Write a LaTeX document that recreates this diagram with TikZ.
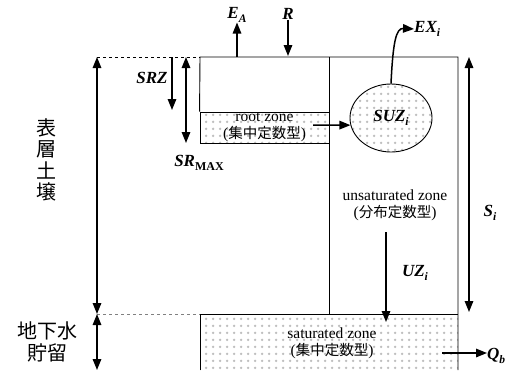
\documentclass[tikz,border=0pt]{standalone}
\usepackage{fontspec}
\setmainfont{Liberation Serif}
\newfontfamily\cjk{Noto Sans CJK JP}
\usetikzlibrary{arrows.meta,patterns.meta,shapes.geometric}
\tikzdeclarepattern{
  name=sdots,
  type=uncolored,
  bounding box={(0pt,0pt) and (7pt,7pt)},
  tile size={(7pt,7pt)},
  code={\fill (3.5pt,3.5pt) circle (1.5pt);}
}
\newcommand\lsub[2]{#1\raisebox{-0.45ex}{\fontsize{11.5}{11.5}\selectfont #2}}
\begin{document}
\begin{tikzpicture}[x=1pt,y=-1pt,
  thin line/.style={line width=0.9pt},
  arr/.style={line width=1.5pt, -{Triangle[length=11pt,width=8.5pt]}},
  darr/.style={line width=1.5pt, {Triangle[length=11pt,width=8.5pt]}-{Triangle[length=11pt,width=8.5pt]}},
  lbl/.style={font=\fontsize{17}{17}\selectfont\bfseries\itshape, inner sep=0pt},
  ztext/.style={font=\fontsize{15.5}{16.5}\selectfont, align=center, inner sep=0pt},
  cjkline/.style={font=\fontsize{14.5}{16.5}\selectfont},
  dotfill/.style={pattern=sdots, pattern color=gray!50},
  vlabel/.style={font=\cjk\fontsize{20}{21.5}\selectfont, align=center, inner sep=0pt}]
\useasboundingbox (0,0) rectangle (514,370);

% coordinates
\coordinate (tl) at (200,57);
\coordinate (tm) at (329,57);
\coordinate (tr) at (458,57);
\coordinate (bm) at (329,314);
\coordinate (br) at (458,370);
\coordinate (dl1) at (97,57);
\coordinate (dl2) at (97,314);
\coordinate (dl3) at (97,370);

% saturated zone
\node[dotfill, minimum width=258pt, minimum height=56pt, anchor=north west, inner sep=0pt] (sat) at (200,314) {};
\draw[thin line] (sat.south west) -- (sat.north west) -- (sat.north east);
\node[ztext] (sattext) at (332,343.5) {saturated zone\\({\cjk\fontsize{14.5}{16.5}\selectfont 集中定数型})};

% root zone
\node[draw, thin line, dotfill, minimum width=129pt, minimum height=31pt, inner sep=0pt, ztext] (root) at (264.5,127.5) {root zone\\({\cjk\fontsize{14.5}{16.5}\selectfont 集中定数型})};

% frame
\draw[thin line] (root.north west) -- (tl) -- (tr) -- (br);
\draw[thin line] (tm) -- (bm);
\draw[thin line, dashed] (dl1) -- (tl);
\draw[thin line, dashed, gray] (dl2) -- (sat.north west);

% SUZ ellipse
\node[ellipse, draw, line width=0.9pt, dotfill, minimum width=82pt, minimum height=68pt, inner sep=0pt, lbl] (suz) at (391,118) {\lsub{SUZ}{i}};
\coordinate (rz) at (313,125);
\draw[arr] (rz) -- (suz.190);

% EX
\node[lbl, anchor=west] (ex) at (414,29) {\lsub{EX}{i}};
\draw[arr] (suz.north) .. controls (393,42) and (396,28) .. (ex.west);

% unsaturated zone text
\node[ztext] (unsat) at (395,205.5) {unsaturated zone\\({\cjk\fontsize{14.5}{16.5}\selectfont 分布定数型})};

% E_A and R
\coordinate (ea0) at (237,57);
\node[lbl] (ea) at (237,15) {\lsub{E}{A}};
\draw[arr] (ea0) -- (ea.south);
\node[lbl] (r) at (288,14) {R};
\coordinate (r0) at (288,56);
\draw[arr] (r.south) -- (r0);

% SRZ, SRMAX
\coordinate (srz1) at (172,57);
\coordinate (srz2) at (172,110);
\draw[arr] (srz1) -- (srz2);
\node[lbl] (srzl) at (152,78) {SRZ};
\coordinate (srm1) at (186,57);
\coordinate (srm2) at (186,143);
\draw[darr] (srm1) -- (srm2);
\node[lbl] (srml) at (199,163) {SR\raisebox{-0.45ex}{\fontsize{12}{12}\selectfont\upshape MAX}};

% left double arrows
\draw[darr] (dl1) -- (dl2);
\draw[darr] (dl2) -- (dl3);
\node[vlabel] (surf) at (46,160) {表\\層\\土\\壌};
\node[vlabel] (gw) at (47,342) {地下水\\貯留};

% UZ
\coordinate (uz1) at (386,232);
\coordinate (uz2) at (386,322);
\draw[arr] (uz1) -- (uz2);
\node[lbl] (uzl) at (415,273) {\lsub{UZ}{i}};

% S_i
\coordinate (si1) at (469,57);
\coordinate (si2) at (469,312);
\draw[darr] (si1) -- (si2);
\node[lbl] (sil) at (490,213) {\lsub{S}{i}};

% Q_b
\coordinate (qb1) at (442,353);
\node[lbl, anchor=west] (qb) at (487,356) {\lsub{Q}{b}};
\draw[arr] (qb1) -- (qb1 -| qb.west);
\end{tikzpicture}
\end{document}
